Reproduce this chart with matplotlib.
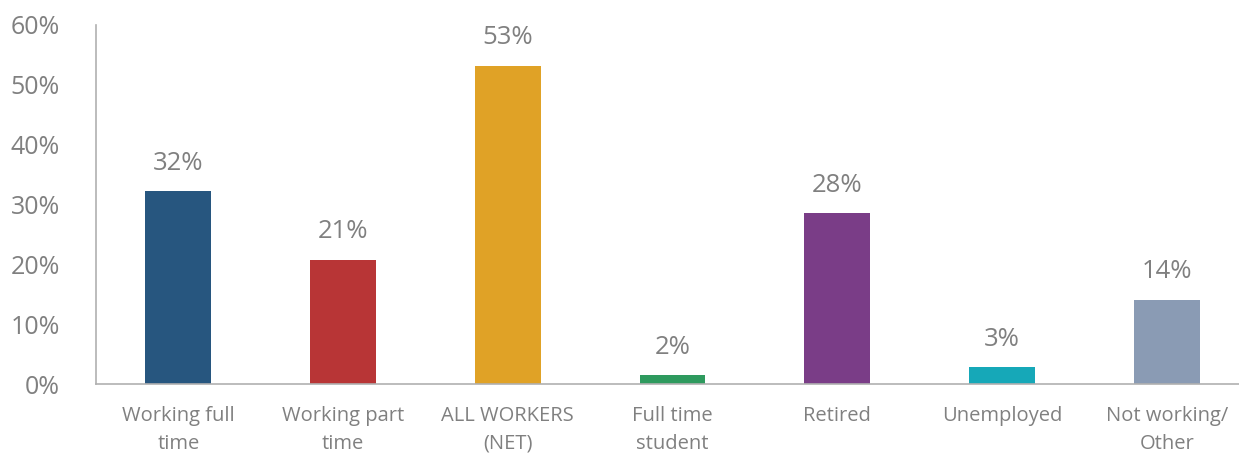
import matplotlib
matplotlib.use("Agg")
import matplotlib.pyplot as plt

categories = ["Working full\ntime", "Working part\ntime", "ALL WORKERS\n(NET)", "Full time\nstudent",
              "Retired", "Unemployed", "Not working/\nOther"]
values = [32.2, 20.8, 53.2, 1.5, 28.5, 2.8, 14.1]
labels = ["32%", "21%", "53%", "2%", "28%", "3%", "14%"]
colors = ["#27567F", "#B83536", "#E0A226", "#2E9A5E", "#7A3D87", "#16A8B8", "#8A9BB4"]

plt.rcParams['font.family'] = ['Open Sans', 'DejaVu Sans']
txt = "#808080"

fig = plt.figure(figsize=(12.39, 4.54), dpi=100)
ax = fig.add_axes([96/1239, 70/454, 1153/1239, 359/454])
x = list(range(len(categories)))
bars = ax.bar(x, values, width=0.4, color=colors)
for b, lab in zip(bars, labels):
    ax.annotate(lab, (b.get_x() + b.get_width()/2, b.get_height()), xytext=(0, 11),
                textcoords="offset points", ha="center", va="bottom", fontsize=18.5, color=txt)
ax.set_xlim(-0.5, 6.5)
ax.set_ylim(0, 60)
ax.set_yticks(range(0, 61, 10))
ax.set_yticklabels([f"{v}%" for v in range(0, 61, 10)], fontsize=18, color=txt)
ax.set_xticks(x)
ax.set_xticklabels(categories, fontsize=14.5, color=txt, linespacing=1.5)
ax.tick_params(axis='y', length=0, pad=26)
ax.tick_params(axis='x', length=0, pad=16)
for s in ["top", "right"]:
    ax.spines[s].set_visible(False)
for s in ["left", "bottom"]:
    ax.spines[s].set_color("#B0B0B0")
    ax.spines[s].set_linewidth(1.2)
fig.savefig("out.png", dpi=100)
